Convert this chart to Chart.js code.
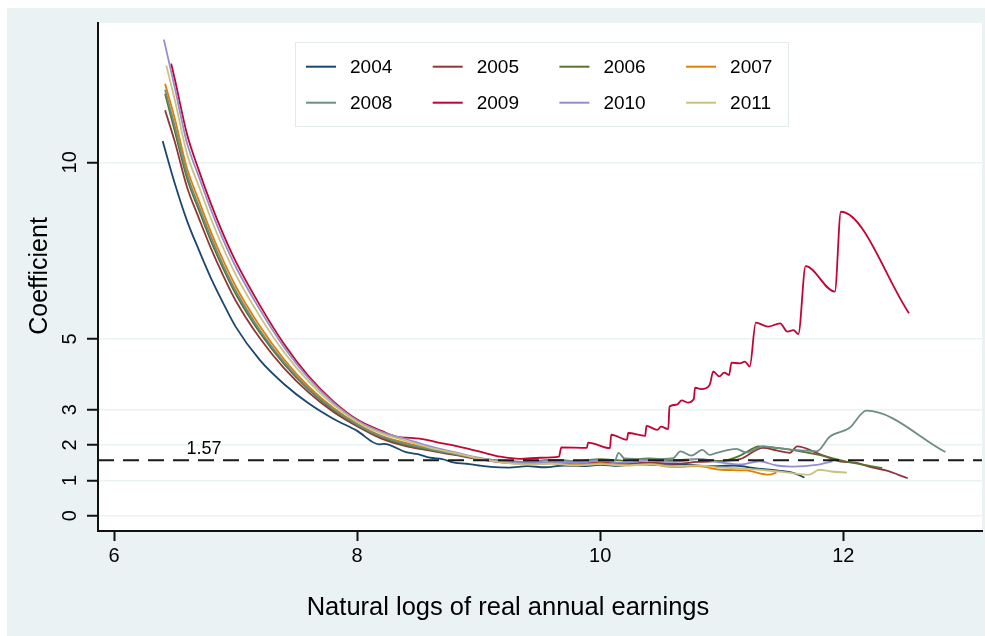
<!DOCTYPE html>
<html>
<head>
<meta charset="utf-8">
<title>Coefficient by natural logs of real annual earnings</title>
<script src="https://cdn.jsdelivr.net/npm/chart.js@4.4.0/dist/chart.umd.min.js"></script>
<style>
  html, body { margin: 0; padding: 0; background: #fff; }
  canvas { display: block; }
</style>
</head>
<body>
<canvas id="myChart" width="985" height="636"></canvas>
<script>
// series names + stata s2color colours
const years = ["2004", "2005", "2006", "2007", "2008", "2009", "2010", "2011"];
const colors = ["#1a476f", "#90353b", "#55752f", "#e37e00", "#6e8e84", "#c10534", "#938dd2", "#cac27e"];

// natural logs of real annual earnings (x) and coefficient (y)
const earnings2004 = [6.40, 6.5, 6.6, 6.7, 6.8, 6.9, 7.0, 7.2, 7.4, 7.6, 7.8, 8.0, 8.18, 8.22, 8.4, 8.5, 8.6, 8.7, 8.8, 8.9, 9.0, 9.1, 9.25, 9.4, 9.55, 9.7, 9.85, 10.0, 10.15, 10.3, 10.5, 10.7, 10.9, 11.1, 11.3, 11.45, 11.6, 11.68];
const coef2004 = [10.6, 9.4, 8.35, 7.5, 6.7, 6.0, 5.35, 4.4, 3.72, 3.18, 2.75, 2.4, 2.02, 2.03, 1.8, 1.74, 1.64, 1.6, 1.5, 1.47, 1.42, 1.38, 1.36, 1.4, 1.37, 1.42, 1.4, 1.44, 1.41, 1.46, 1.43, 1.45, 1.4, 1.42, 1.33, 1.28, 1.2, 1.08];

const earnings2005 = [6.42, 6.5, 6.6, 6.7, 6.8, 6.9, 7.0, 7.2, 7.4, 7.6, 7.8, 8.0, 8.2, 8.4, 8.6, 8.8, 9.0, 9.2, 9.4, 9.6, 9.8, 10.0, 10.2, 10.4, 10.6, 10.8, 11.0, 11.15, 11.34, 11.45, 11.56, 11.62, 11.8, 11.97, 12.1, 12.21, 12.35, 12.53];
const coef2005 = [11.47, 10.58, 9.3, 8.4, 7.54, 6.78, 6.09, 5.02, 4.17, 3.49, 2.95, 2.53, 2.18, 1.97, 1.84, 1.72, 1.6, 1.5, 1.47, 1.5, 1.46, 1.52, 1.48, 1.5, 1.47, 1.52, 1.55, 1.6, 1.92, 1.85, 1.78, 1.96, 1.75, 1.54, 1.5, 1.39, 1.28, 1.06];

const earnings2006 = [6.42, 6.5, 6.6, 6.7, 6.8, 6.9, 7.0, 7.2, 7.4, 7.6, 7.8, 8.0, 8.2, 8.4, 8.6, 8.8, 9.0, 9.2, 9.4, 9.6, 9.8, 10.0, 10.2, 10.4, 10.6, 10.8, 11.0, 11.15, 11.25, 11.3, 11.45, 11.6, 11.8, 12.0, 12.15, 12.32];
const coef2006 = [11.94, 10.88, 9.55, 8.63, 7.75, 6.98, 6.28, 5.18, 4.29, 3.57, 3.0, 2.56, 2.22, 2.0, 1.86, 1.74, 1.62, 1.55, 1.52, 1.58, 1.55, 1.6, 1.56, 1.62, 1.57, 1.6, 1.55, 1.7, 1.89, 1.96, 1.92, 1.85, 1.72, 1.55, 1.45, 1.35];

const earnings2007 = [6.42, 6.5, 6.6, 6.7, 6.8, 6.9, 7.0, 7.2, 7.4, 7.6, 7.8, 8.0, 8.2, 8.4, 8.6, 8.8, 9.0, 9.2, 9.4, 9.6, 9.8, 10.0, 10.2, 10.4, 10.6, 10.8, 11.0, 11.2, 11.39, 11.45];
const coef2007 = [12.22, 11.23, 9.83, 8.9, 8.0, 7.21, 6.5, 5.36, 4.42, 3.66, 3.06, 2.6, 2.26, 2.06, 1.9, 1.76, 1.62, 1.52, 1.48, 1.5, 1.45, 1.48, 1.43, 1.46, 1.38, 1.4, 1.3, 1.28, 1.16, 1.22];

const earnings2008 = [6.42, 6.5, 6.6, 6.7, 6.8, 6.9, 7.0, 7.2, 7.4, 7.6, 7.8, 8.0, 8.2, 8.4, 8.6, 8.8, 9.0, 9.2, 9.4, 9.6, 9.8, 10.0, 10.12, 10.15, 10.2, 10.4, 10.6, 10.66, 10.75, 10.84, 10.9, 10.96, 11.12, 11.2, 11.34, 11.45, 11.56, 11.7, 11.78, 11.89, 12.05, 12.19, 12.84];
const coef2008 = [12.05, 11.02, 9.67, 8.74, 7.86, 7.07, 6.37, 5.25, 4.34, 3.6, 3.03, 2.58, 2.24, 2.03, 1.88, 1.75, 1.62, 1.55, 1.52, 1.57, 1.55, 1.58, 1.55, 1.78, 1.62, 1.6, 1.63, 1.82, 1.7, 1.86, 1.72, 1.78, 1.89, 1.79, 1.96, 1.92, 1.87, 1.84, 1.82, 2.24, 2.48, 2.97, 1.80];

const earnings2009 = [6.47, 6.5, 6.6, 6.7, 6.8, 6.9, 7.0, 7.2, 7.4, 7.6, 7.8, 8.0, 8.2, 8.33, 8.44, 8.55, 8.68, 8.8, 9.01, 9.18, 9.34, 9.51, 9.66, 9.68, 9.89, 9.90, 10.08, 10.09, 10.22, 10.23, 10.37, 10.38, 10.47, 10.50, 10.56, 10.57, 10.63, 10.67, 10.72, 10.77, 10.78, 10.83, 10.90, 10.93, 10.98, 11.02, 11.06, 11.08, 11.15, 11.19, 11.23, 11.28, 11.38, 11.48, 11.54, 11.59, 11.63, 11.69, 11.93, 11.98, 12.54];
const coef2009 = [12.79, 12.35, 10.8, 9.75, 8.8, 7.95, 7.2, 5.95, 4.85, 3.95, 3.25, 2.72, 2.4, 2.23, 2.2, 2.16, 2.06, 1.98, 1.81, 1.67, 1.61, 1.64, 1.67, 1.93, 1.92, 2.07, 1.91, 2.29, 2.15, 2.34, 2.26, 2.54, 2.43, 2.52, 2.45, 3.09, 3.14, 3.26, 3.2, 3.3, 3.62, 3.58, 3.70, 4.08, 3.94, 4.05, 3.98, 4.33, 4.31, 4.36, 4.22, 5.46, 5.35, 5.44, 5.21, 5.25, 5.14, 7.06, 6.34, 8.60, 5.73];

const earnings2010 = [6.41, 6.5, 6.6, 6.7, 6.8, 6.9, 7.0, 7.2, 7.4, 7.6, 7.8, 8.0, 8.2, 8.4, 8.6, 8.8, 9.0, 9.2, 9.4, 9.6, 9.8, 10.0, 10.2, 10.4, 10.6, 10.8, 11.0, 11.15, 11.31, 11.45, 11.58, 11.78, 11.91];
const coef2010 = [13.47, 12.11, 10.55, 9.57, 8.63, 7.79, 7.05, 5.83, 4.76, 3.89, 3.21, 2.69, 2.37, 2.17, 1.96, 1.8, 1.64, 1.52, 1.48, 1.52, 1.5, 1.55, 1.5, 1.56, 1.52, 1.6, 1.5, 1.45, 1.54, 1.42, 1.39, 1.44, 1.54];

const earnings2011 = [6.43, 6.5, 6.6, 6.7, 6.8, 6.9, 7.0, 7.2, 7.4, 7.6, 7.8, 8.0, 8.2, 8.4, 8.6, 8.8, 9.0, 9.2, 9.4, 9.6, 9.8, 10.0, 10.2, 10.4, 10.6, 10.8, 11.0, 11.15, 11.31, 11.5, 11.72, 11.8, 11.9, 12.03];
const coef2011 = [12.74, 11.76, 10.25, 9.3, 8.38, 7.56, 6.83, 5.64, 4.62, 3.8, 3.15, 2.66, 2.33, 2.12, 1.92, 1.78, 1.62, 1.5, 1.45, 1.47, 1.42, 1.46, 1.42, 1.45, 1.4, 1.42, 1.36, 1.34, 1.3, 1.24, 1.16, 1.3, 1.25, 1.22];

const earningsByYear = [earnings2004, earnings2005, earnings2006, earnings2007, earnings2008, earnings2009, earnings2010, earnings2011];
const coefByYear = [coef2004, coef2005, coef2006, coef2007, coef2008, coef2009, coef2010, coef2011];

// axes
const xTicks = [6, 8, 10, 12];
const yTicks = [0, 1, 2, 3, 5, 10];
const xMin = 5.868, xMax = 13.141;
const yMin = -0.433, yMax = 13.94;
const refValue = 1.57; // dashed reference line

const fontFamily = "'Liberation Sans', Arial, Helvetica, sans-serif";
const bgColor = "#eaf2f3";
const axisColor = "#111111";

const seriesDatasets = years.map((yr, i) => ({
  label: yr,
  data: earningsByYear[i].map((x, j) => ({ x: x, y: coefByYear[i][j] })),
  borderColor: colors[i],
  borderWidth: 1.8,
  pointRadius: 0,
  fill: false,
  cubicInterpolationMode: "monotone",
  order: 9 - i,
}));

const refDataset = {
  label: "ref",
  data: [{ x: xMin, y: refValue }, { x: xMax, y: refValue }],
  borderColor: "#1a1a1a",
  borderWidth: 2,
  borderDash: [16, 9],
  pointRadius: 0,
  fill: false,
  order: 0,
};

// background, rotated labels, titles and legend (stata look)
const stataLook = {
  id: "stataLook",
  beforeDraw(chart) {
    const { ctx, chartArea: a } = chart;
    ctx.save();
    ctx.fillStyle = "#ffffff";
    ctx.fillRect(0, 0, chart.width, chart.height);
    ctx.fillStyle = bgColor;
    ctx.fillRect(7, 8, chart.width - 7, chart.height - 8);
    ctx.fillStyle = "#ffffff";
    ctx.fillRect(a.left, a.top, a.right - a.left, a.bottom - a.top);
    ctx.restore();
  },
  afterDraw(chart) {
    const { ctx } = chart;
    const yScale = chart.scales.y;
    ctx.save();
    ctx.fillStyle = "#000";

    // y tick labels, rotated like stata
    ctx.font = "20px " + fontFamily;
    ctx.textAlign = "center";
    ctx.textBaseline = "alphabetic";
    yTicks.forEach((v) => {
      ctx.save();
      ctx.translate(75.5, yScale.getPixelForValue(v));
      ctx.rotate(-Math.PI / 2);
      ctx.fillText(String(v), 0, 0);
      ctx.restore();
    });

    // axis titles
    ctx.font = "25px " + fontFamily;
    ctx.save();
    ctx.translate(47, 276);
    ctx.rotate(-Math.PI / 2);
    ctx.fillText("Coefficient", 0, 0);
    ctx.restore();
    ctx.font = "25.5px " + fontFamily;
    ctx.fillText("Natural logs of real annual earnings", 508, 615);

    // label of the reference line
    ctx.font = "18px " + fontFamily;
    ctx.fillText(String(refValue), 204, yScale.getPixelForValue(refValue) - 6);

    // legend box
    ctx.fillStyle = "#ffffff";
    ctx.fillRect(295.5, 42.5, 493, 84);
    ctx.strokeStyle = "#e2eaeb";
    ctx.lineWidth = 1;
    ctx.strokeRect(295.5, 42.5, 493, 84);
    ctx.font = "19px " + fontFamily;
    ctx.textAlign = "left";
    ctx.textBaseline = "middle";
    years.forEach((yr, i) => {
      const lx = 306 + (i % 4) * 126.7;
      const ly = 66.7 + Math.floor(i / 4) * 36;
      ctx.strokeStyle = colors[i];
      ctx.lineWidth = 2;
      ctx.beginPath();
      ctx.moveTo(lx, ly);
      ctx.lineTo(lx + 30, ly);
      ctx.stroke();
      ctx.fillStyle = "#000";
      ctx.fillText(yr, lx + 44, ly + 1);
    });
    ctx.restore();
  },
};

new Chart(document.getElementById("myChart"), {
  type: "line",
  data: { datasets: [refDataset].concat(seriesDatasets) },
  options: {
    responsive: false,
    animation: false,
    devicePixelRatio: 1,
    events: [],
    layout: { padding: { top: 23, right: 3, left: 0, bottom: 0 } },
    plugins: { legend: { display: false }, tooltip: { enabled: false } },
    scales: {
      x: {
        type: "linear",
        min: xMin,
        max: xMax,
        afterBuildTicks: (s) => { s.ticks = xTicks.map((v) => ({ value: v })); },
        afterFit: (s) => { s.height = 105; },
        grid: { drawOnChartArea: false, drawTicks: true, tickLength: 10, tickColor: axisColor, tickWidth: 2 },
        border: { display: true, color: axisColor, width: 2 },
        ticks: { color: "#000", font: { family: fontFamily, size: 20 }, padding: 3, maxRotation: 0, autoSkip: false },
      },
      y: {
        type: "linear",
        min: yMin,
        max: yMax,
        afterBuildTicks: (s) => { s.ticks = yTicks.map((v) => ({ value: v })); },
        afterFit: (s) => { s.width = 98; },
        grid: { color: bgColor, lineWidth: 1.5, drawTicks: true, tickLength: 11, tickColor: axisColor, tickWidth: 2 },
        border: { display: true, color: axisColor, width: 2 },
        ticks: { display: false },
      },
    },
  },
  plugins: [stataLook],
});
</script>
</body>
</html>
